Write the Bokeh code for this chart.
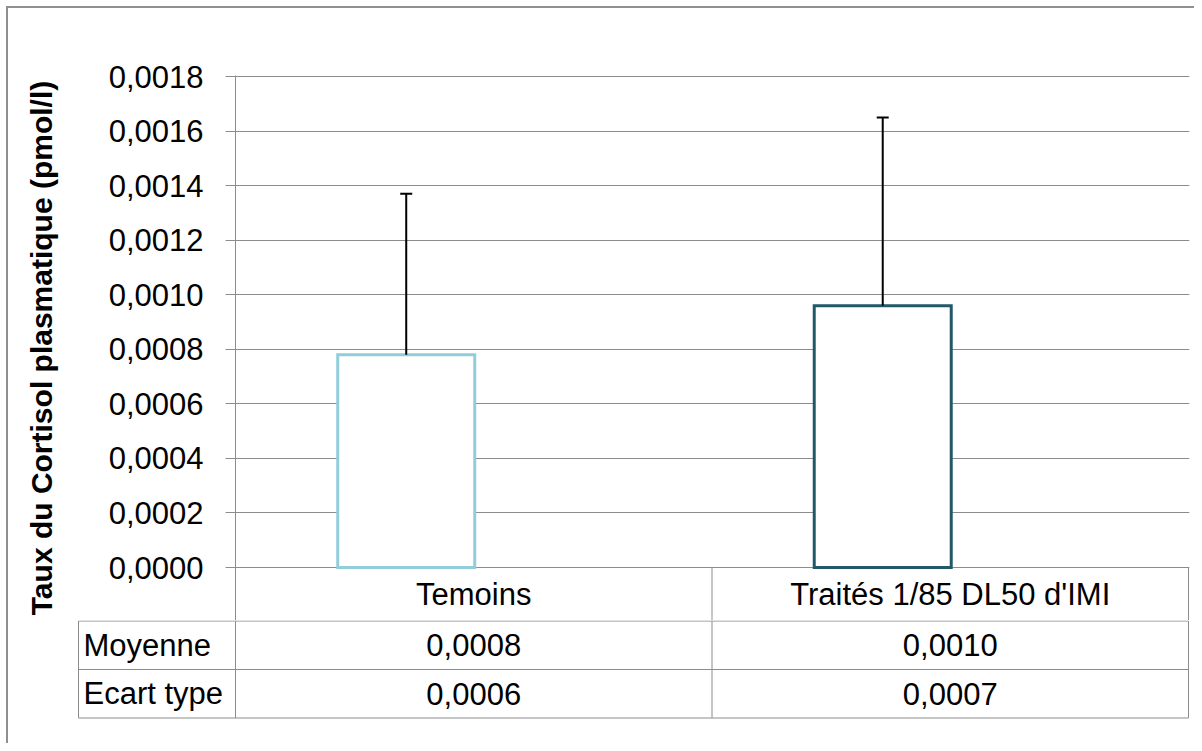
from bokeh.plotting import figure
from bokeh.layouts import column
from bokeh.models import Range1d, FixedTicker, CustomJSTickFormatter, ColumnDataSource, Whisker, TeeHead
from bokeh.core.properties import value
from bokeh.embed import file_html
from bokeh.resources import INLINE

# ---------------- data ----------------
categories = ["Temoins", "Traités 1/85 DL50 d'IMI"]
means = [0.00078, 0.00096]
sds = [0.00059, 0.00069]
row_labels = ["Moyenne", "Ecart type"]
y_ticks = [0.0, 0.0002, 0.0004, 0.0006, 0.0008, 0.0010, 0.0012, 0.0014, 0.0016, 0.0018]
y_title = "Taux du Cortisol plasmatique (pmol/l)"

# ---------------- styles / layout ----------------
bar_colors = ["#92CDDC", "#215968"]
FONT = "Liberation Sans"
FS = "31px"
GRID = "#8c8c8c"

ORIGIN = 8            # page x/y of content origin
W = 1186
H1 = 612
H2 = 123
AX_X = 235            # page x of value axis
UNIT = 476.5          # px per category
PX_PER_Y = 491 / 0.0018
BAR_OFFSET = -0.1417
BAR_WIDTH = 0.2875


def px2x(px):
    return (px - AX_X) / UNIT


def fmt(v):
    return f"{v:.4f}".replace(".", ",")


y_start = -53 / PX_PER_Y
y_end = y_ticks[-1] + 1 / PX_PER_Y

xs = [i + 0.5 for i in range(len(categories))]
bar_x = [x + BAR_OFFSET for x in xs]
upper = [m + s for m, s in zip(means, sds)]

src = ColumnDataSource(dict(x=bar_x, top=means, upper=upper, color=bar_colors))

p1 = figure(width=W, height=H1,
            x_range=Range1d(0, px2x(1189)), y_range=Range1d(y_start, y_end),
            x_axis_location=None, toolbar_location=None, output_backend="svg",
            min_border_left=AX_X - ORIGIN, min_border_right=ORIGIN + W - 1189,
            min_border_top=75 - ORIGIN, min_border_bottom=0)
p1.frame_align = False
p1.outline_line_color = None
p1.background_fill_color = "white"
p1.border_fill_color = "white"
p1.xgrid.visible = False

yaxis = p1.yaxis[0]
yaxis.ticker = FixedTicker(ticks=y_ticks)
yaxis.formatter = CustomJSTickFormatter(code="return tick.toFixed(4).replace('.', ',');")
yaxis.major_tick_out = 10
yaxis.major_tick_in = 0
yaxis.minor_tick_out = 0
yaxis.minor_tick_in = 0
yaxis.axis_line_color = GRID
yaxis.major_tick_line_color = GRID
yaxis.major_label_text_font = FONT
yaxis.major_label_text_font_size = FS
yaxis.major_label_text_color = "black"
yaxis.major_label_standoff = 22
yaxis.axis_label = y_title
yaxis.axis_label_text_font = FONT
yaxis.axis_label_text_font_size = "30px"
yaxis.axis_label_text_font_style = "bold"
yaxis.axis_label_text_color = "black"
yaxis.axis_label_standoff = 48

p1.ygrid.grid_line_color = GRID
p1.ygrid.grid_line_width = 1

p1.vbar(x="x", top="top", bottom=0, width=BAR_WIDTH, fill_color="white",
        line_color="color", line_width=3, line_join="miter", source=src)

wh = Whisker(base="x", lower="top", upper="upper", source=src, dimension="height",
             line_color="black", line_width=2, lower_head=None,
             upper_head=TeeHead(size=12, line_color="black", line_width=2))
wh.level = "annotation"
p1.add_layout(wh)

# header row of data table (category names)
bounds_x = list(range(len(categories) + 1))
p1.segment(x0=bounds_x, x1=bounds_x, y0=[y_start] * len(bounds_x), y1=[0] * len(bounds_x),
           line_color=GRID, line_width=1)
p1.text(x=xs, y=[y_start / 2] * len(xs), text=categories, text_align="center",
        text_baseline="middle", text_font=value(FONT), text_font_size=value(FS), text_color="black")

# ---------------- table rows ----------------
p2 = figure(width=W, height=H2,
            x_range=Range1d(px2x(ORIGIN), px2x(ORIGIN + W)), y_range=Range1d(H2, 0),
            x_axis_location=None, y_axis_location=None, toolbar_location=None,
            output_backend="svg", min_border=0,
            min_border_left=0, min_border_right=0, min_border_top=0, min_border_bottom=0)
p2.frame_align = False
p2.outline_line_color = None
p2.grid.visible = False

ROW_TOP = 0.5
ROW_H = 48.5
TABLE_LEFT = px2x(78)
row_lines = [ROW_TOP + i * ROW_H for i in range(len(row_labels) + 1)]
p2.segment(x0=[TABLE_LEFT] * len(row_lines), x1=[len(categories)] * len(row_lines),
           y0=row_lines, y1=row_lines, line_color=GRID, line_width=1)
vx = [TABLE_LEFT] + bounds_x
p2.segment(x0=vx, x1=vx, y0=[ROW_TOP] * len(vx), y1=[row_lines[-1]] * len(vx),
           line_color=GRID, line_width=1)

row_centers = [ROW_TOP + (i + 0.5) * ROW_H for i in range(len(row_labels))]
p2.text(x=[px2x(83)] * len(row_labels), y=row_centers, text=row_labels, text_align="left",
        text_baseline="middle", text_font=value(FONT), text_font_size=value(FS), text_color="black")

table_vals = [[fmt(v) for v in means], [fmt(v) for v in sds]]
tx, ty, tt = [], [], []
for r, vals in enumerate(table_vals):
    for c, t in enumerate(vals):
        tx.append(xs[c])
        ty.append(row_centers[r])
        tt.append(t)
p2.text(x=tx, y=ty, text=tt, text_align="center", text_baseline="middle",
        text_font=value(FONT), text_font_size=value(FS), text_color="black")

layout = column(p1, p2, spacing=0,
                styles={"margin-left": "6px", "margin-top": "6px",
                        "border-left": "2px solid #8f8f8f", "border-top": "2px solid #8f8f8f"})

open("out.html", "w").write(file_html(layout, INLINE))
